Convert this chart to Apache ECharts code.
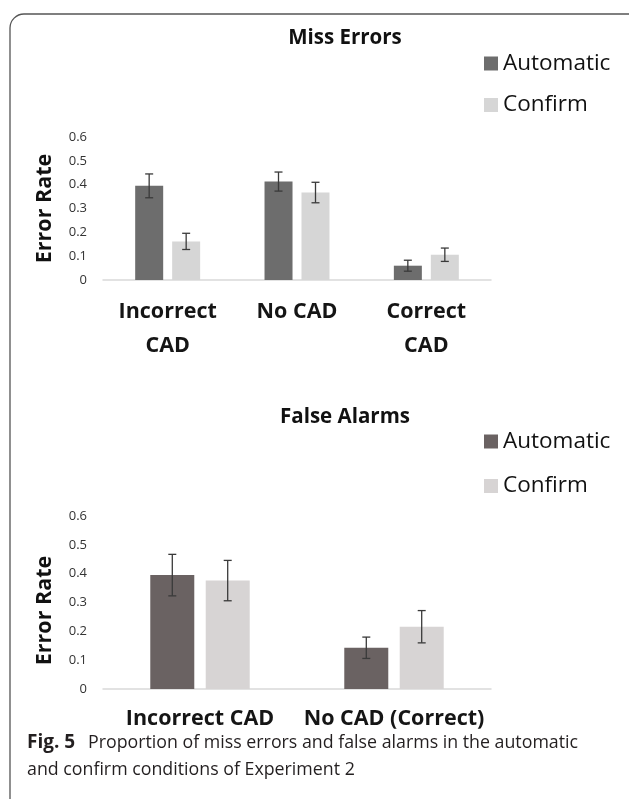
<!DOCTYPE html>
<html>
<head>
<meta charset="utf-8">
<script src="https://cdn.jsdelivr.net/npm/echarts@6/dist/echarts.min.js"></script>
<style>
html,body{margin:0;padding:0;background:#fff;}
#chart{width:629px;height:799px;}
</style>
</head>
<body>
<div id="chart"></div>
<script>
// ---- data ----
const seriesNames = ['Automatic', 'Confirm'];
const missCategories = ['Incorrect\nCAD', 'No CAD', 'Correct\nCAD'];
const missAutomatic = [0.395, 0.413, 0.060];
const missAutomaticErr = [0.050, 0.040, 0.023];
const missConfirm = [0.162, 0.367, 0.106];
const missConfirmErr = [0.034, 0.043, 0.028];

const faCategories = ['Incorrect CAD', 'No CAD (Correct)'];
const faAutomatic = [0.395, 0.143];
const faAutomaticErr = [0.072, 0.037];
const faConfirm = [0.376, 0.216];
const faConfirmErr = [0.070, 0.056];

const yTicks = [0, 0.1, 0.2, 0.3, 0.4, 0.5, 0.6];

// ---- styles ----
const FONT = '"Open Sans", sans-serif';
const topDark = '#6d6d6d', topLight = '#d6d6d6';
const botDark = '#6a6262', botLight = '#d7d4d4';
const errColor = '#3a3a3a';

function errSeries(name, grid, vals, errs, offsetPx) {
  return {
    type: 'custom',
    name: name + ' err',
    xAxisIndex: grid, yAxisIndex: grid,
    silent: true, z: 5,
    data: vals.map((v, i) => [i, v, errs[i]]),
    renderItem: function (params, api) {
      const i = api.value(0), v = api.value(1), e = api.value(2);
      const hi = api.coord([i, v + e]);
      const lo = api.coord([i, v - e]);
      const x = hi[0] + offsetPx;
      const cap = 4;
      const st = { stroke: errColor, lineWidth: 1.3 };
      return {
        type: 'group',
        children: [
          { type: 'line', shape: { x1: x, y1: hi[1], x2: x, y2: lo[1] }, style: st },
          { type: 'line', shape: { x1: x - cap, y1: hi[1], x2: x + cap, y2: hi[1] }, style: st },
          { type: 'line', shape: { x1: x - cap, y1: lo[1], x2: x + cap, y2: lo[1] }, style: st }
        ]
      };
    }
  };
}

function yAxisCfg(grid, pad) {
  return {
    type: 'value', gridIndex: grid, min: 0, max: 0.6, interval: 0.1,
    name: 'Error Rate', nameLocation: 'middle', nameGap: 47,
    nameTextStyle: { fontFamily: FONT, fontSize: 21.5, fontWeight: 'bold', color: '#111', padding: pad },
    axisLine: { show: false }, axisTick: { show: false }, splitLine: { show: false },
    axisLabel: { fontFamily: FONT, fontSize: 13, color: '#333', margin: 16,
      formatter: v => (yTicks.indexOf(Math.round(v * 10) / 10) >= 0 ? String(Math.round(v * 10) / 10) : '') }
  };
}

function xAxisCfg(grid, cats, margin) {
  return {
    type: 'category', gridIndex: grid, data: cats,
    axisLine: { lineStyle: { color: '#d9d9d9', width: 1.5 } },
    axisTick: { show: false },
    axisLabel: { fontFamily: FONT, fontSize: 21.5, fontWeight: 'bold', color: '#151515',
      lineHeight: 34, margin: margin, interval: 0 }
  };
}

const chart = echarts.init(document.getElementById('chart'));
chart.setOption({
  animation: false,
  backgroundColor: '#fff',
  textStyle: { fontFamily: FONT },
  title: [
    { text: 'Miss Errors', left: 340, top: 23, textAlign: 'center',
      textStyle: { fontFamily: FONT, fontSize: 20.5, fontWeight: 'bold', color: '#111' } },
    { text: 'False Alarms', left: 340, top: 402, textAlign: 'center',
      textStyle: { fontFamily: FONT, fontSize: 20.5, fontWeight: 'bold', color: '#111' } }
  ],
  legend: [
    { left: 479, top: 47, orient: 'vertical', icon: 'rect', itemWidth: 14, itemHeight: 14, itemGap: 18.5,
      textStyle: { fontFamily: FONT, fontSize: 22.5, color: '#111' },
      data: [{ name: seriesNames[0], itemStyle: { color: topDark } }, { name: seriesNames[1], itemStyle: { color: topLight } }] },
    { left: 479, top: 425, orient: 'vertical', icon: 'rect', itemWidth: 14, itemHeight: 14, itemGap: 21.5,
      textStyle: { fontFamily: FONT, fontSize: 22.5, color: '#111' },
      data: [{ name: seriesNames[0], itemStyle: { color: botDark } }, { name: seriesNames[1], itemStyle: { color: botLight } }] }
  ],
  grid: [
    { left: 103, right: 138, top: 137, height: 143 },
    { left: 103, right: 138, top: 516, height: 173 }
  ],
  xAxis: [xAxisCfg(0, missCategories, 15), xAxisCfg(1, faCategories, 13)],
  yAxis: [yAxisCfg(0, [0, 0, 0, 0]), yAxisCfg(1, [0, 16, 0, 0])],
  series: [
    { type: 'bar', name: seriesNames[0], xAxisIndex: 0, yAxisIndex: 0, data: missAutomatic,
      barWidth: 28, barGap: '32%', itemStyle: { color: topDark } },
    { type: 'bar', name: seriesNames[1], xAxisIndex: 0, yAxisIndex: 0, data: missConfirm,
      barWidth: 28, barGap: '32%', itemStyle: { color: topLight } },
    { type: 'bar', name: seriesNames[0], xAxisIndex: 1, yAxisIndex: 1, data: faAutomatic,
      barWidth: 44, barGap: '26%', itemStyle: { color: botDark } },
    { type: 'bar', name: seriesNames[1], xAxisIndex: 1, yAxisIndex: 1, data: faConfirm,
      barWidth: 44, barGap: '26%', itemStyle: { color: botLight } },
    errSeries('Automatic', 0, missAutomatic, missAutomaticErr, -18.5),
    errSeries('Confirm', 0, missConfirm, missConfirmErr, 18.5),
    errSeries('Automatic', 1, faAutomatic, faAutomaticErr, -27.7),
    errSeries('Confirm', 1, faConfirm, faConfirmErr, 27.7)
  ],
  graphic: [
    { type: 'rect', shape: { x: 10, y: 14, width: 700, height: 900, r: 14 },
      style: { fill: 'none', stroke: '#555', lineWidth: 1.3 }, silent: true },
    { type: 'text', left: 27, top: 733,
      style: { text: 'Fig. 5', font: 'bold 19px ' + FONT, fill: '#231f20' } },
    { type: 'text', left: 88, top: 734,
      style: { text: 'Proportion of miss errors and false alarms in the automatic', font: '17.8px ' + FONT, fill: '#231f20' } },
    { type: 'text', left: 27, top: 761,
      style: { text: 'and confirm conditions of Experiment 2', font: '17.8px ' + FONT, fill: '#231f20' } }
  ]
});
</script>
</body>
</html>
